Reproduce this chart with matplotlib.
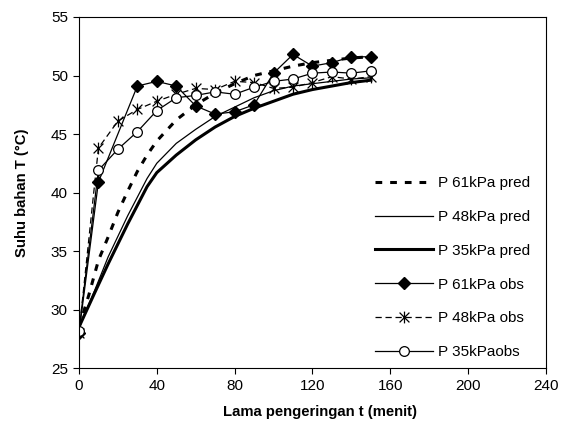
import numpy as np
import matplotlib
matplotlib.use("Agg")
import matplotlib.pyplot as plt
from matplotlib.path import Path

plt.rcParams['font.family'] = ['Liberation Sans', 'DejaVu Sans']

# predicted curves
t_p61 = [0, 5, 10, 15, 20, 25, 30, 35, 40, 50, 60, 70, 80, 90, 100, 110, 120, 130, 140, 150]
T_p61 = [28.5, 31.2, 34.2, 36.2, 38.3, 40.1, 41.8, 43.2, 44.4, 46.2, 47.5, 48.5, 49.3,
         50.0, 50.4, 50.8, 51.1, 51.3, 51.5, 51.6]

t_p48 = [0, 8, 15, 25, 35, 40, 50, 60, 70, 80, 90, 100, 110, 120, 130, 140, 150]
T_p48 = [28.5, 31.6, 34.5, 38.0, 41.2, 42.5, 44.2, 45.4, 46.5, 47.3, 48.1, 48.7,
         49.1, 49.3, 49.5, 49.7, 49.8]

t_p35 = [0, 8, 15, 25, 35, 40, 50, 60, 70, 80, 90, 100, 110, 120, 130, 140, 150]
T_p35 = [28.5, 31.4, 33.9, 37.3, 40.5, 41.7, 43.2, 44.5, 45.6, 46.5, 47.2, 47.8,
         48.4, 48.8, 49.1, 49.4, 49.6]

# observed
t_o61 = [0, 10, 30, 40, 50, 60, 70, 80, 90, 100, 110, 120, 130, 140, 150]
T_o61 = [28.0, 40.9, 49.1, 49.5, 49.1, 47.4, 46.7, 46.9, 47.5, 50.2, 51.8, 50.8, 51.1, 51.6, 51.6]

t_o48 = [0, 10, 20, 30, 40, 50, 60, 70, 80, 90, 100, 110, 120, 130, 140, 150]
T_o48 = [28.0, 43.8, 46.1, 47.1, 47.8, 48.4, 48.9, 48.8, 49.5, 49.4, 48.9, 49.0, 49.4, 49.9, 49.7, 49.9]

t_o35 = [0, 10, 20, 30, 40, 50, 60, 70, 80, 90, 100, 110, 120, 130, 140, 150]
T_o35 = [28.2, 41.9, 43.7, 45.2, 47.0, 48.1, 48.3, 48.6, 48.4, 49.0, 49.5, 49.7, 50.2, 50.3, 50.2, 50.4]

labels = ["P 61kPa pred", "P 48kPa pred", "P 35kPa pred",
          "P 61kPa obs", "P 48kPa obs", "P 35kPaobs"]

# asterisk marker: X with a vertical bar
star = Path([(-1, -1), (1, 1), (-1, 1), (1, -1), (0, -1.2), (0, 1.2)],
            [Path.MOVETO, Path.LINETO, Path.MOVETO, Path.LINETO, Path.MOVETO, Path.LINETO])

fig = plt.figure(figsize=(5.64, 4.25), dpi=100)
ax = fig.add_axes([0.140, 0.134, 0.828, 0.826])

ax.plot(t_p61, T_p61, color='black', lw=2.2, dashes=(2.2, 2.6), label=labels[0])
ax.plot(t_p48, T_p48, color='black', lw=0.9, label=labels[1])
ax.plot(t_p35, T_p35, color='black', lw=2.2, label=labels[2])
ax.plot(t_o61, T_o61, color='black', lw=0.9, marker='D', ms=6.5,
        mfc='black', mec='black', label=labels[3])
ax.plot(t_o48, T_o48, color='black', lw=0.9, dashes=(5, 3), marker=star, ms=8.5,
        mec='black', mew=0.9, label=labels[4])
ax.plot(t_o35, T_o35, color='black', lw=0.9, marker='o', ms=7,
        mfc='white', mec='black', mew=0.9, label=labels[5])

ax.set_xlim(0, 240)
ax.set_ylim(25, 55)
ax.set_xticks(range(0, 241, 40))
ax.set_yticks(range(25, 56, 5))
ax.tick_params(direction='out', length=4, width=0.8, labelsize=11, colors='black',
               top=False, right=False, pad=4)
for s in ax.spines.values():
    s.set_linewidth(0.8)

ax.set_xlabel("Lama pengeringan t (menit)", fontsize=10.75, fontweight='bold')
ax.set_ylabel("Suhu bahan T (°C)", fontsize=10.75, fontweight='bold')
ax.xaxis.set_label_coords(0.516, -0.105)
ax.yaxis.set_label_coords(-0.108, 0.5)

ax.legend(loc='center left', bbox_to_anchor=(0.634, 0.286), frameon=False,
          fontsize=11, handlelength=3.8, handletextpad=0.33, labelspacing=1.3,
          borderpad=0, borderaxespad=0)

fig.savefig("out.png", dpi=100)
